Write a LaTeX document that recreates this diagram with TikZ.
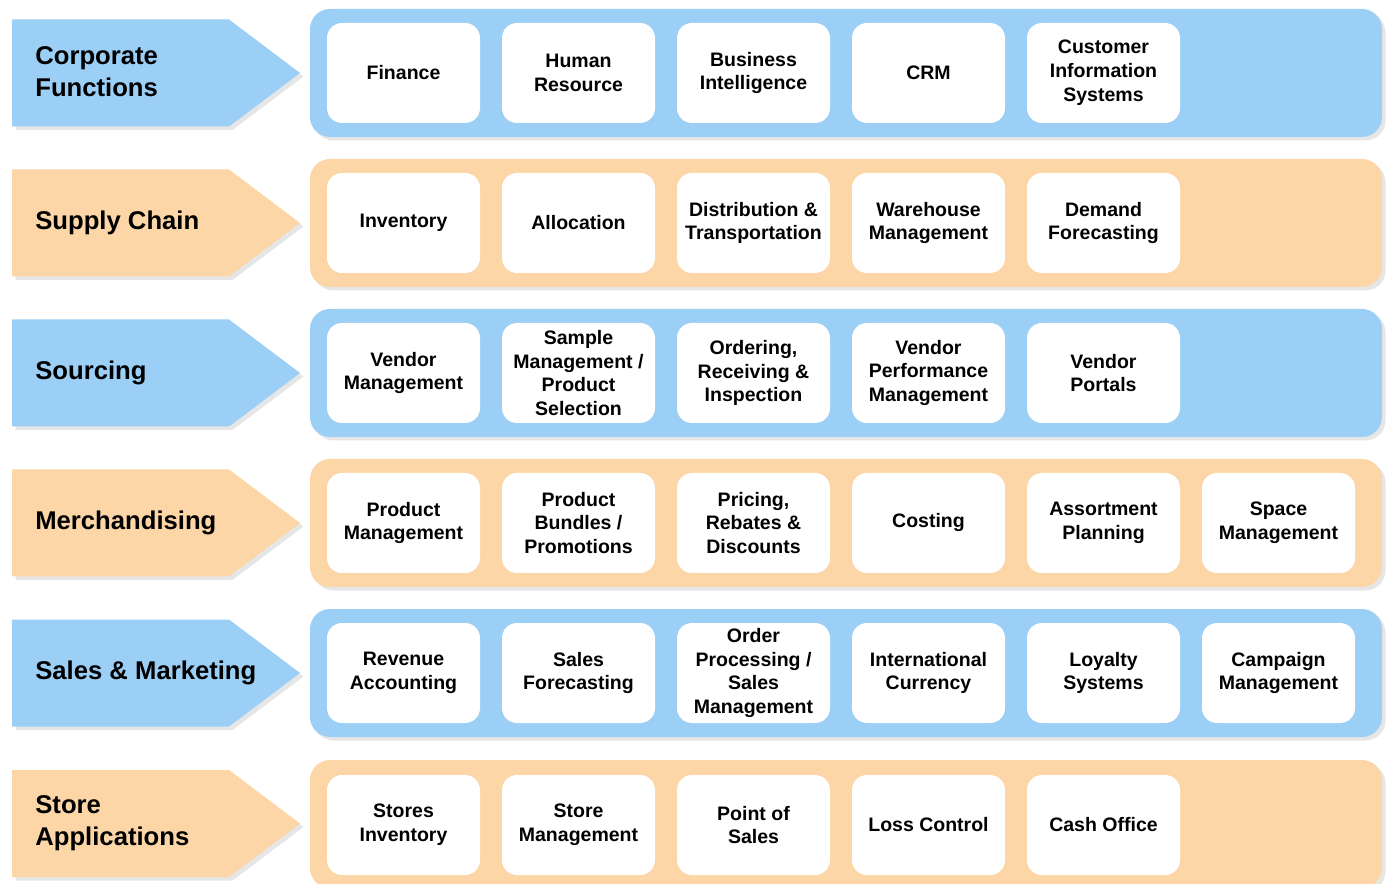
\documentclass[tikz,border=0pt]{standalone}
\usepackage{fontspec}
\setmainfont{Liberation Sans}
\usetikzlibrary{shapes.symbols,positioning,shadows}
\definecolor{bandblue}{RGB}{155,207,245}
\definecolor{bandorange}{RGB}{252,214,166}

\begin{document}
\begin{tikzpicture}[
    node distance=0.44cm,
    band/.style={rectangle, rounded corners=0.4cm, minimum width=21.44cm, minimum height=2.56cm, outer sep=0pt, drop shadow={opacity=0.2, shadow xshift=0.07cm, shadow yshift=-0.07cm}},
    tag/.style={signal, signal to=east, signal pointer angle=74, minimum width=5.76cm, minimum height=2.14cm, inner sep=0pt, outer sep=0pt, anchor=west, drop shadow={opacity=0.2, shadow xshift=0.07cm, shadow yshift=-0.07cm}},
    tagtext/.style={font=\fontsize{14.6}{18}\selectfont\bfseries, align=left, inner sep=0pt},
    app/.style={rectangle, fill=white, rounded corners=0.3cm, minimum width=3.06cm, minimum height=2cm, align=center, inner sep=1pt, outer sep=0pt, font=\fontsize{11.1}{13.6}\selectfont\bfseries}
]

\useasboundingbox (0,0) rectangle (27.8,-17.68);

% Corporate Functions
\node (corpband) [band, fill=bandblue] at (16.92,-1.46) {};
\node (corptag) [tag, fill=bandblue] at (0.24,-1.46) {};
\node (corptext) [tagtext, right=0.46cm of corptag.west, yshift=0.03cm] {Corporate\\Functions};
\node (finance) [app, right=0.34cm of corpband.west] {Finance};
\node (hr) [app, right=of finance] {Human\\Resource};
\node (bi) [app, right=of hr] {Business\\Intelligence};
\node (crm) [app, right=of bi] {CRM};
\node (cis) [app, right=of crm] {Customer\\Information\\Systems};

% Supply Chain
\node (supband) [band, fill=bandorange] at (16.92,-4.46) {};
\node (suptag) [tag, fill=bandorange] at (0.24,-4.46) {};
\node (suptext) [tagtext, right=0.46cm of suptag.west] {Supply Chain};
\node (inventory) [app, right=0.34cm of supband.west] {Inventory};
\node (allocation) [app, right=of inventory] {Allocation};
\node (distrib) [app, right=of allocation] {Distribution \&\\Transportation};
\node (warehouse) [app, right=of distrib] {Warehouse\\Management};
\node (demand) [app, right=of warehouse] {Demand\\Forecasting};

% Sourcing
\node (srcband) [band, fill=bandblue] at (16.92,-7.46) {};
\node (srctag) [tag, fill=bandblue] at (0.24,-7.46) {};
\node (srctext) [tagtext, right=0.46cm of srctag.west] {Sourcing};
\node (vendormgmt) [app, right=0.34cm of srcband.west] {Vendor\\Management};
\node (sample) [app, right=of vendormgmt] {Sample\\Management /\\Product\\Selection};
\node (ordering) [app, right=of sample] {Ordering,\\Receiving \&\\Inspection};
\node (vendorperf) [app, right=of ordering] {Vendor\\Performance\\Management};
\node (portals) [app, right=of vendorperf] {Vendor\\Portals};

% Merchandising
\node (merchband) [band, fill=bandorange] at (16.92,-10.46) {};
\node (merchtag) [tag, fill=bandorange] at (0.24,-10.46) {};
\node (merchtext) [tagtext, right=0.46cm of merchtag.west] {Merchandising};
\node (prodmgmt) [app, right=0.34cm of merchband.west] {Product\\Management};
\node (bundles) [app, right=of prodmgmt] {Product\\Bundles /\\Promotions};
\node (pricing) [app, right=of bundles] {Pricing,\\Rebates \&\\Discounts};
\node (costing) [app, right=of pricing] {Costing};
\node (assort) [app, right=of costing] {Assortment\\Planning};
\node (space) [app, right=of assort] {Space\\Management};

% Sales & Marketing
\node (salesband) [band, fill=bandblue] at (16.92,-13.46) {};
\node (salestag) [tag, fill=bandblue] at (0.24,-13.46) {};
\node (salestext) [tagtext, right=0.46cm of salestag.west] {Sales \& Marketing};
\node (revenue) [app, right=0.34cm of salesband.west] {Revenue\\Accounting};
\node (forecast) [app, right=of revenue] {Sales\\Forecasting};
\node (orderproc) [app, right=of forecast] {Order\\Processing /\\Sales\\Management};
\node (currency) [app, right=of orderproc] {International\\Currency};
\node (loyalty) [app, right=of currency] {Loyalty\\Systems};
\node (campaign) [app, right=of loyalty] {Campaign\\Management};

% Store Applications
\node (storeband) [band, fill=bandorange] at (16.92,-16.48) {};
\node (storetag) [tag, fill=bandorange] at (0.24,-16.47) {};
\node (storetext) [tagtext, right=0.46cm of storetag.west] {Store\\Applications};
\node (storeinv) [app, right=0.34cm of storeband.west, yshift=-0.02cm] {Stores\\Inventory};
\node (storemgmt) [app, right=of storeinv] {Store\\Management};
\node (pos) [app, right=of storemgmt] {Point of\\Sales};
\node (loss) [app, right=of pos] {Loss Control};
\node (cash) [app, right=of loss] {Cash Office};

\end{tikzpicture}
\end{document}
